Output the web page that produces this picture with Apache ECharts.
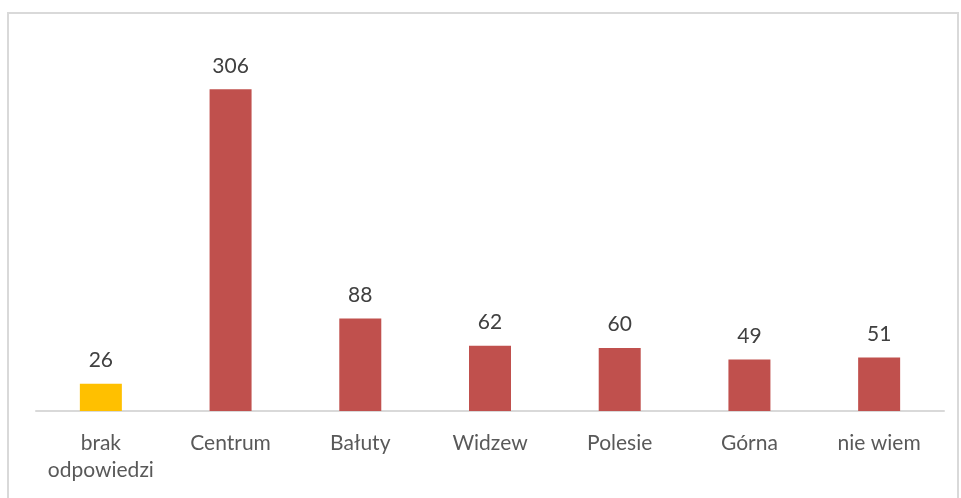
<!DOCTYPE html>
<html>
<head>
<meta charset="utf-8">
<script src="https://cdn.jsdelivr.net/npm/echarts@6/dist/echarts.min.js"></script>
<style>
  html, body { margin: 0; padding: 0; background: #fff; }
  #chart { width: 961px; height: 498px; }
</style>
</head>
<body>
<div id="chart"></div>
<script>
var categories = ['brak\nodpowiedzi', 'Centrum', 'Bałuty', 'Widzew', 'Polesie', 'Górna', 'nie wiem'];
var values = [26, 306, 88, 62, 60, 49, 51];
var barColors = ['#ffc000', '#c0504d', '#c0504d', '#c0504d', '#c0504d', '#c0504d', '#c0504d'];

var myChart = echarts.init(document.getElementById('chart'));
myChart.setOption({
  animation: false,
  textStyle: { fontFamily: 'Lato, "Open Sans", sans-serif' },
  graphic: [{
    type: 'rect',
    shape: { x: 8, y: 13, width: 950, height: 500 },
    style: { fill: 'none', stroke: '#d9d9d9', lineWidth: 2 },
    silent: true
  }],
  grid: { left: 36, right: 17, top: 43, bottom: 87 },
  xAxis: {
    type: 'category',
    data: categories,
    axisLine: { lineStyle: { color: '#d9d9d9', width: 2 } },
    axisTick: { show: false },
    axisLabel: { interval: 0, hideOverlap: false, color: '#595959', fontSize: 21, margin: 19, lineHeight: 27 }
  },
  yAxis: {
    type: 'value',
    min: 0,
    max: 350,
    show: false,
    splitLine: { show: false }
  },
  series: [{
    type: 'bar',
    data: values.map(function (v, i) {
      return { value: v, itemStyle: { color: barColors[i] } };
    }),
    barWidth: 42,
    label: {
      show: true,
      position: 'top',
      distance: 13,
      color: '#404040',
      fontSize: 21
    }
  }]
});
window.onresize = function () { myChart.resize(); };
</script>
</body>
</html>
